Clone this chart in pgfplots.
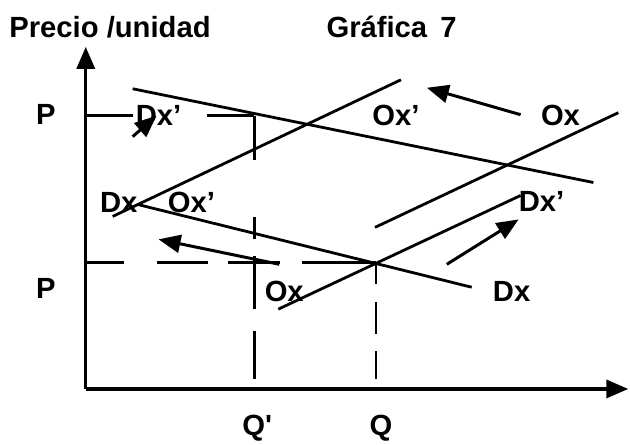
\documentclass[border=0pt]{standalone}
\usepackage{fontspec}
\setmainfont{Liberation Sans}
\newfontfamily\plainfont[Ligatures=ResetAll]{Liberation Sans}
\usepackage{pgfplots}
\pgfplotsset{compat=1.18}
\usetikzlibrary{arrows.meta}
\tikzset{lbl/.style={font=\fontsize{14.7}{18}\selectfont\bfseries, inner sep=0pt, anchor=center}}

\begin{document}
\begin{tikzpicture}
\begin{axis}[
  width=315bp, height=223bp, scale only axis,
  xmin=0, xmax=630, ymin=0, ymax=446, y dir=reverse,
  hide axis, clip=false,
  cycle list={{black,mark=none}},
  every axis plot/.append style={black, line width=1.4bp, mark=none},
]
% frame for bounding box
\addplot[draw=none] coordinates {(0,0) (630,446)};
% axes
\addplot[line width=1.7bp, -{Triangle[length=11bp,width=9bp]}] coordinates {(86,390) (86,47)};
\addplot[line width=1.7bp, -{Triangle[length=11bp,width=9bp]}] coordinates {(86,390) (630,390)};
% upper P line
\addplot coordinates {(86,116) (133,116)};
\addplot coordinates {(208,116) (255,116)};
% vertical at Q'
\addplot coordinates {(255,116) (255,160)};
\addplot coordinates {(255,218) (255,240)};
\addplot coordinates {(255,257) (255,310)};
\addplot coordinates {(255,332) (255,380)};
% lower P line
\addplot coordinates {(86,263) (124,263)};
\addplot coordinates {(157,263) (209,263)};
\addplot coordinates {(229,263) (281,263)};
\addplot coordinates {(303,263) (377,263)};
% vertical at Q
\addplot coordinates {(377,263) (377,285)};
\addplot coordinates {(377,303) (377,335)};
\addplot coordinates {(377,352) (377,380)};
% demand and supply lines
\addplot coordinates {(133,89) (595,183)};   % Dx'
\addplot coordinates {(113,217) (402,80)};   % Ox'
\addplot coordinates {(138,205) (473,288)};  % Dx
\addplot coordinates {(279,310) (522,196)};  % Ox lower
\addplot coordinates {(376,228) (620,113)};  % Ox upper
% shift arrows
\addplot[line width=1.5bp, -{Triangle[length=11bp,width=9bp]}] coordinates {(133,137) (157,116)};
\addplot[line width=1.5bp, -{Triangle[length=11bp,width=9bp]}] coordinates {(522,115) (428,88)};
\addplot[line width=1.5bp, -{Triangle[length=11bp,width=9bp]}] coordinates {(280,265) (159,240)};
\addplot[line width=1.5bp, -{Triangle[length=11bp,width=9bp]}] coordinates {(448,265) (520,220)};
% labels
\node[lbl, anchor=west] at (axis cs:9,27) {Precio /unidad};
\node[lbl, anchor=west] at (axis cs:327,27) {Gráfica\hspace{0.45em}7};
\node[lbl] at (axis cs:46,115) {P};
\node[lbl] at (axis cs:46,289) {P};
\node[lbl] at (axis cs:258,429) {{\plainfont\bfseries Q'}};
\node[lbl] at (axis cs:382,429) {Q};
\node[lbl] at (axis cs:159,116) {Dx'};
\node[lbl] at (axis cs:397,116) {Ox'};
\node[lbl] at (axis cs:562,116) {Ox};
\node[lbl] at (axis cs:119,203) {Dx};
\node[lbl] at (axis cs:192,203) {Ox'};
\node[lbl] at (axis cs:543,202) {Dx'};
\node[lbl] at (axis cs:285,292) {Ox};
\node[lbl] at (axis cs:513,292) {Dx};
\end{axis}
\end{tikzpicture}
\end{document}
